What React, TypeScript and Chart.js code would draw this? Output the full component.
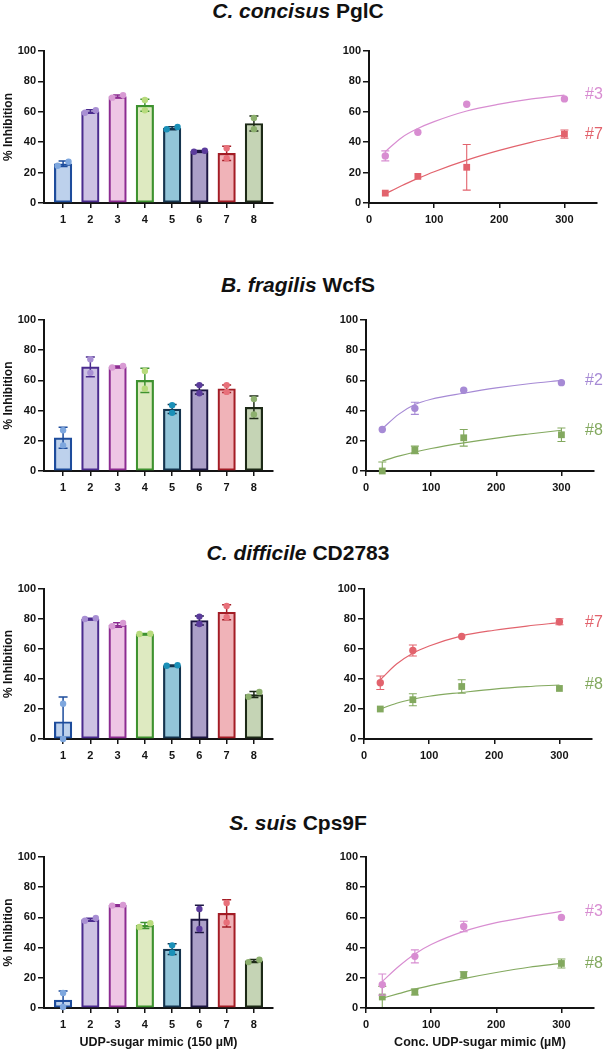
import React, { useEffect, useRef } from 'react';
import { Chart, registerables } from 'chart.js';

Chart.register(...registerables);

const FONT = "'Liberation Sans', Arial, Helvetica, sans-serif";
const INK = '#141414';

// ---------- shared categories / ticks ----------
const mimics = [1, 2, 3, 4, 5, 6, 7, 8];
const mimicLabels = ['1', '2', '3', '4', '5', '6', '7', '8'];
const percentTicks = [0, 20, 40, 60, 80, 100];
const concTicks = [0, 100, 200, 300];
const concentrations = [25, 75, 150, 300];
const curveX = [25, 50, 75, 100, 150, 200, 250, 300];

const panelTitlesItalic = ['C. concisus', 'B. fragilis', 'C. difficile', 'S. suis'];
const panelTitlesRest = ['PglC', 'WcfS', 'CD2783', 'Cps9F'];
const barAxisTitle = 'UDP-sugar mimic (150 µM)';
const doseAxisTitle = 'Conc. UDP-sugar mimic (µM)';
const yAxisTitle = '% Inhibition';

// ---------- bar colours per mimic ----------
const barFill = ['#bdd1ec', '#cdc2e3', '#eec6e5', '#deeac1', '#93c5d9', '#ab9fc8', '#f0b3b8', '#c5d4b5'];
const barEdge = ['#1d4c9c', '#4a2b8e', '#8c2c91', '#3e922f', '#15344e', '#1c1642', '#a31c25', '#1d2a17'];
const dotColor = ['#7ea7de', '#a88fd3', '#d89ad3', '#b8db7d', '#1a90b8', '#5b3b9c', '#e8707a', '#8db06e'];

// ---------- bar panels: mean, SD, replicates ----------
const pglcMean = [25.8, 60.2, 70, 64.3, 49.2, 34, 32.7, 52.3];
const pglcSd = [1.8, 1.2, 1, 4, 1, 0.5, 4.7, 5];
const pglcRepA = [24.5, 59.4, 69.3, 67.8, 48.5, 33.7, 36, 56];
const pglcRepB = [27.1, 61.1, 71, 61, 50, 34.4, 29.4, 48.6];

const wcfsMean = [22, 69, 69, 60, 41, 54, 54.5, 42.2];
const wcfsSd = [7, 6.5, 0.5, 8, 3, 3, 2.5, 7.5];
const wcfsRepA = [27, 74, 68.5, 66.2, 43.6, 56.9, 56.9, 47.6];
const wcfsRepB = [17, 65, 69.5, 54.5, 38.5, 51.5, 52.4, 37.4];

const cd2783Mean = [11.5, 80, 76, 70, 49, 79, 84.5, 29.6];
const cd2783Sd = [16.5, 0.5, 1.5, 0.3, 0.3, 3, 5, 2];
const cd2783RepA = [23.5, 80, 75.2, 70, 48.8, 81.6, 88.7, 28.2];
const cd2783RepB = [0, 80.5, 77.4, 70.2, 49.2, 76.7, 81.2, 31.3];

const cps9fMean = [5.2, 58.5, 68, 54.7, 39, 59, 62.7, 31.2];
const cps9fSd = [6, 1, 0.4, 2, 3.5, 9, 9, 1];
const cps9fRepA = [0.7, 57.8, 67.8, 53.6, 41.5, 65.6, 69.5, 30.4];
const cps9fRepB = [10, 59.6, 68.2, 56.1, 36.6, 52.3, 56.7, 32];

// ---------- dose-response panels ----------
// C. concisus PglC
const pglcS3Mean = [31, 46.5, 65, 68.5];
const pglcS3Sd = [3.3, 0, 0, 0];
const pglcS3Curve = [33.8, 43, 49, 53.5, 60.5, 65, 68.5, 71];
const pglcS7Mean = [6.5, 17.5, 23.5, 45.3];
const pglcS7Sd = [0, 0, 15, 2.7];
const pglcS7Curve = [6, 11.4, 16.2, 20.6, 28.2, 34.6, 40.1, 44.8];
// B. fragilis WcfS
const wcfsS2Mean = [27.5, 41.5, 53.5, 58.5];
const wcfsS2Sd = [0, 4, 0, 0];
const wcfsS2Curve = [28, 37.5, 44, 47.5, 51.5, 55, 57.8, 60];
const wcfsS8Mean = [0, 14, 22, 24];
const wcfsS8Sd = [6, 2.5, 5.5, 4.5];
const wcfsS8Curve = [6.6, 9.8, 12.6, 14.9, 18.6, 21.8, 24.5, 27];
// C. difficile CD2783
const cdS7Mean = [37.5, 59, 68.3, 78.2];
const cdS7Sd = [4.5, 3.7, 0, 2];
const cdS7Curve = [39.5, 50, 57.2, 62, 68.8, 72.5, 75.3, 77.6];
const cdS8Mean = [20, 26.2, 35, 33.7];
const cdS8Sd = [0, 4, 4.5, 0];
const cdS8Curve = [20, 23.8, 26.5, 28.5, 31, 33.3, 34.9, 36];
// S. suis Cps9F
const ssS3Mean = [15.5, 34.2, 54, 60];
const ssS3Sd = [7, 4.3, 3.5, 0];
const ssS3Curve = [17.6, 27.5, 35.8, 42, 50.7, 56.5, 60.5, 64];
const ssS8Mean = [7.3, 10.6, 22, 29.5];
const ssS8Sd = [7, 2, 2, 3];
const ssS8Curve = [6.5, 9.5, 12.5, 15, 19.5, 23.5, 27, 29.5];

const PINK = '#d88dd1';
const RED = '#e2636d';
const PURPLE = '#a68ad5';
const GREEN = '#83a95f';

// ---------- layout ----------
const rowTop = [51, 320, 589, 857];
const rowBottom = [203, 471, 739, 1008];
const titleTop = [0, 274, 542, 812];
const doseAxisLeft = [369, 366, 364, 366];
const BAR_AXIS_LEFT = 44;
const BAR_AXIS_RIGHT = 273;
const DOSE_WIDTH = 228;
const LABEL_X = 585;

const tickFont = { family: FONT, size: 11, weight: 'bold' as const };

// ---------- plugins ----------
const errorBarPlugin = {
  id: 'errorBars',
  afterDatasetDraw(chart: any, args: any) {
    const ds: any = chart.data.datasets[args.index];
    if (!ds.errorBars) return;
    const { ctx, chartArea } = chart;
    const xs = chart.scales.x;
    const ys = chart.scales.y;
    ctx.save();
    ctx.beginPath();
    ctx.rect(chartArea.left, chartArea.top - 30, chartArea.right - chartArea.left, chartArea.bottom - chartArea.top + 29);
    ctx.clip();
    ctx.lineWidth = ds.errorWidth || 1;
    const cap = ds.errorCap || 4;
    ds.data.forEach((p: any, i: number) => {
      const sd = ds.errorBars[i];
      if (!sd) return;
      const px = xs.getPixelForValue(p.x);
      const yHi = ys.getPixelForValue(p.y + sd);
      const yLo = ys.getPixelForValue(p.y - sd);
      ctx.strokeStyle = Array.isArray(ds.errorColor) ? ds.errorColor[i] : ds.errorColor;
      ctx.beginPath();
      ctx.moveTo(px, yHi);
      ctx.lineTo(px, yLo);
      ctx.moveTo(px - cap, yHi);
      ctx.lineTo(px + cap, yHi);
      ctx.moveTo(px - cap, yLo);
      ctx.lineTo(px + cap, yLo);
      ctx.stroke();
    });
    ctx.restore();
  },
};

function makeLabelPlugin(names: string[], colors: string[], ends: number[], xInCanvas: number) {
  return {
    id: 'seriesLabels',
    afterDraw(chart: any) {
      const { ctx } = chart;
      const ys = chart.scales.y;
      ctx.save();
      ctx.font = `16px ${FONT}`;
      ctx.textAlign = 'left';
      ctx.textBaseline = 'middle';
      names.forEach((n, i) => {
        ctx.fillStyle = colors[i];
        ctx.fillText(n, xInCanvas, ys.getPixelForValue(ends[i]));
      });
      ctx.restore();
    },
  };
}

function axisCommon() {
  return {
    grid: { display: true, drawOnChartArea: false, drawTicks: true, color: INK, lineWidth: 1.5 },
    border: { display: true, color: INK, width: 2 },
  };
}

function yScale(width: number, withTitle: boolean) {
  const c = axisCommon();
  return {
    min: 0,
    max: 100,
    afterBuildTicks: (s: any) => {
      s.ticks = percentTicks.map((v) => ({ value: v }));
    },
    afterFit: (s: any) => {
      s.width = width;
    },
    grid: { ...c.grid, tickLength: 6 },
    border: c.border,
    ticks: { font: tickFont, color: INK, padding: 2 },
    title: withTitle
      ? { display: true, text: yAxisTitle, color: INK, font: { family: FONT, size: 12, weight: 'bold' }, padding: { top: 1, bottom: 0 } }
      : { display: false },
  };
}

function xTitle(text: string, show: boolean) {
  return show
    ? { display: true, text, color: INK, font: { family: FONT, size: 12.5, weight: 'bold' }, padding: { top: 0, bottom: 0 } }
    : { display: false };
}

// ---------- chart configs ----------
function barConfig(mean: number[], sd: number[], repA: number[], repB: number[], bottomRow: boolean, xAxisHeight: number) {
  const points: { x: number; y: number }[] = [];
  const pointColors: string[] = [];
  mimics.forEach((m, i) => {
    const a = repA[i];
    const b = repB[i];
    const close = Math.abs(a - b) < 3.5;
    points.push({ x: m - (close ? 0.2 : 0), y: Math.min(a, b) }, { x: m + (close ? 0.2 : 0), y: Math.max(a, b) });
    pointColors.push(dotColor[i], dotColor[i]);
  });
  const c = axisCommon();
  return {
    type: 'bar',
    data: {
      datasets: [
        {
          type: 'bar',
          data: mimics.map((m, i) => ({ x: m, y: mean[i] })),
          backgroundColor: barFill,
          borderColor: barEdge,
          borderWidth: 2.2,
          borderSkipped: false,
          barThickness: 17.5,
          order: 2,
          errorBars: sd,
          errorColor: barEdge,
          errorWidth: 1.5,
          errorCap: 4.5,
        },
        {
          type: 'scatter',
          data: points,
          pointBackgroundColor: pointColors,
          pointBorderColor: pointColors,
          pointBorderWidth: 0,
          pointRadius: 3.2,
          order: 1,
          clip: false,
        },
      ],
    },
    options: {
      animation: false,
      responsive: false,
      events: [],
      layout: { padding: { top: 10, right: 12, left: 0, bottom: 0 } },
      plugins: { legend: { display: false }, tooltip: { enabled: false }, title: { display: false } },
      scales: {
        x: {
          type: 'linear',
          min: 0.3,
          max: 8.7,
          offset: false,
          afterBuildTicks: (s: any) => {
            s.ticks = mimics.map((v) => ({ value: v }));
          },
          afterFit: (s: any) => {
            s.height = xAxisHeight;
          },
          grid: { ...c.grid, offset: false, tickLength: 5 },
          border: c.border,
          ticks: {
            font: tickFont,
            color: INK,
            padding: 5,
            maxRotation: 0,
            autoSkip: false,
            callback: (v: number) => mimicLabels[mimics.indexOf(v)] ?? '',
          },
          title: xTitle(barAxisTitle, bottomRow),
        },
        y: yScale(BAR_AXIS_LEFT, true),
      },
    },
    plugins: [errorBarPlugin],
  };
}

type Series = { name: string; color: string; style: string; mean: number[]; sd: number[]; curve: number[] };

function doseConfig(series: Series[], canvasLeft: number, bottomRow: boolean, xAxisHeight: number, padRight: number) {
  const datasets: any[] = [];
  series.forEach((s) => {
    datasets.push({
      type: 'line',
      data: curveX.map((x, i) => ({ x, y: s.curve[i] })),
      borderColor: s.color,
      borderWidth: 1.2,
      pointRadius: 0,
      cubicInterpolationMode: 'monotone',
      fill: false,
      order: 2,
    });
    datasets.push({
      type: 'scatter',
      data: concentrations.map((x, i) => ({ x, y: s.mean[i] })),
      pointStyle: s.style,
      pointRadius: s.style === 'rect' ? 4.8 : 3.7,
      pointBackgroundColor: s.color,
      pointBorderColor: s.color,
      pointBorderWidth: 0,
      errorBars: s.sd,
      errorColor: s.color,
      errorWidth: 1.1,
      errorCap: 4,
      order: 1,
      clip: false,
    });
  });
  const c = axisCommon();
  return {
    type: 'scatter',
    data: { datasets },
    options: {
      animation: false,
      responsive: false,
      events: [],
      layout: { padding: { top: 10, right: padRight, left: 0, bottom: 0 } },
      plugins: { legend: { display: false }, tooltip: { enabled: false }, title: { display: false } },
      scales: {
        x: {
          type: 'linear',
          min: 0,
          max: 350,
          afterBuildTicks: (s: any) => {
            s.ticks = concTicks.map((v) => ({ value: v }));
          },
          afterFit: (s: any) => {
            s.height = xAxisHeight;
          },
          grid: { ...c.grid, tickLength: 5 },
          border: c.border,
          ticks: { font: tickFont, color: INK, padding: 5, maxRotation: 0, autoSkip: false },
          title: xTitle(doseAxisTitle, bottomRow),
        },
        y: yScale(40, false),
      },
    },
    plugins: [
      errorBarPlugin,
      makeLabelPlugin(
        series.map((s) => s.name),
        series.map((s) => s.color),
        series.map((s) => s.curve[s.curve.length - 1]),
        LABEL_X - canvasLeft
      ),
    ],
  };
}

function ChartCanvas({ left, top, width, height, make }: { left: number; top: number; width: number; height: number; make: () => any }) {
  const ref = useRef<HTMLCanvasElement>(null);
  useEffect(() => {
    const chart = new Chart(ref.current as HTMLCanvasElement, make());
    return () => chart.destroy();
  }, []);
  return (
    <canvas
      ref={ref}
      width={width}
      height={height}
      style={{ position: 'absolute', left, top, width, height, display: 'block' }}
    />
  );
}

const barData = [
  [pglcMean, pglcSd, pglcRepA, pglcRepB],
  [wcfsMean, wcfsSd, wcfsRepA, wcfsRepB],
  [cd2783Mean, cd2783Sd, cd2783RepA, cd2783RepB],
  [cps9fMean, cps9fSd, cps9fRepA, cps9fRepB],
];

const doseData: Series[][] = [
  [
    { name: '#3', color: PINK, style: 'circle', mean: pglcS3Mean, sd: pglcS3Sd, curve: pglcS3Curve },
    { name: '#7', color: RED, style: 'rect', mean: pglcS7Mean, sd: pglcS7Sd, curve: pglcS7Curve },
  ],
  [
    { name: '#2', color: PURPLE, style: 'circle', mean: wcfsS2Mean, sd: wcfsS2Sd, curve: wcfsS2Curve },
    { name: '#8', color: GREEN, style: 'rect', mean: wcfsS8Mean, sd: wcfsS8Sd, curve: wcfsS8Curve },
  ],
  [
    { name: '#7', color: RED, style: 'circle', mean: cdS7Mean, sd: cdS7Sd, curve: cdS7Curve },
    { name: '#8', color: GREEN, style: 'rect', mean: cdS8Mean, sd: cdS8Sd, curve: cdS8Curve },
  ],
  [
    { name: '#3', color: PINK, style: 'circle', mean: ssS3Mean, sd: ssS3Sd, curve: ssS3Curve },
    { name: '#8', color: GREEN, style: 'rect', mean: ssS8Mean, sd: ssS8Sd, curve: ssS8Curve },
  ],
];

export default function App() {
  const rows = [0, 1, 2, 3];
  return (
    <div
      style={{
        position: 'absolute',
        left: 0,
        top: 0,
        width: 608,
        height: 1049,
        overflow: 'hidden',
        background: '#ffffff',
        fontFamily: FONT,
      }}
    >
      {rows.map((r) => {
        const bottomRow = r === 3;
        const xH = bottomRow ? 42 : 26;
        const top = rowTop[r] - 10;
        const height = rowBottom[r] - rowTop[r] + 10 + xH;
        const [m, sd, a, b] = barData[r];
        const L = doseAxisLeft[r];
        const dLeft = L - 40;
        const dWidth = 608 - dLeft;
        const padRight = 608 - (L + DOSE_WIDTH);
        return (
          <React.Fragment key={r}>
            <div
              style={{
                position: 'absolute',
                left: 0,
                top: titleTop[r],
                width: 596,
                textAlign: 'center',
                fontSize: 21,
                lineHeight: '21px',
                fontWeight: 'bold',
                color: '#111',
                whiteSpace: 'nowrap',
              }}
            >
              <span style={{ fontStyle: 'italic' }}>{panelTitlesItalic[r]}</span> {panelTitlesRest[r]}
            </div>
            <ChartCanvas
              left={0}
              top={top}
              width={BAR_AXIS_RIGHT + 12}
              height={height}
              make={() => barConfig(m, sd, a, b, bottomRow, xH)}
            />
            <ChartCanvas
              left={dLeft}
              top={top}
              width={dWidth}
              height={height}
              make={() => doseConfig(doseData[r], dLeft, bottomRow, xH, padRight)}
            />
          </React.Fragment>
        );
      })}
    </div>
  );
}
